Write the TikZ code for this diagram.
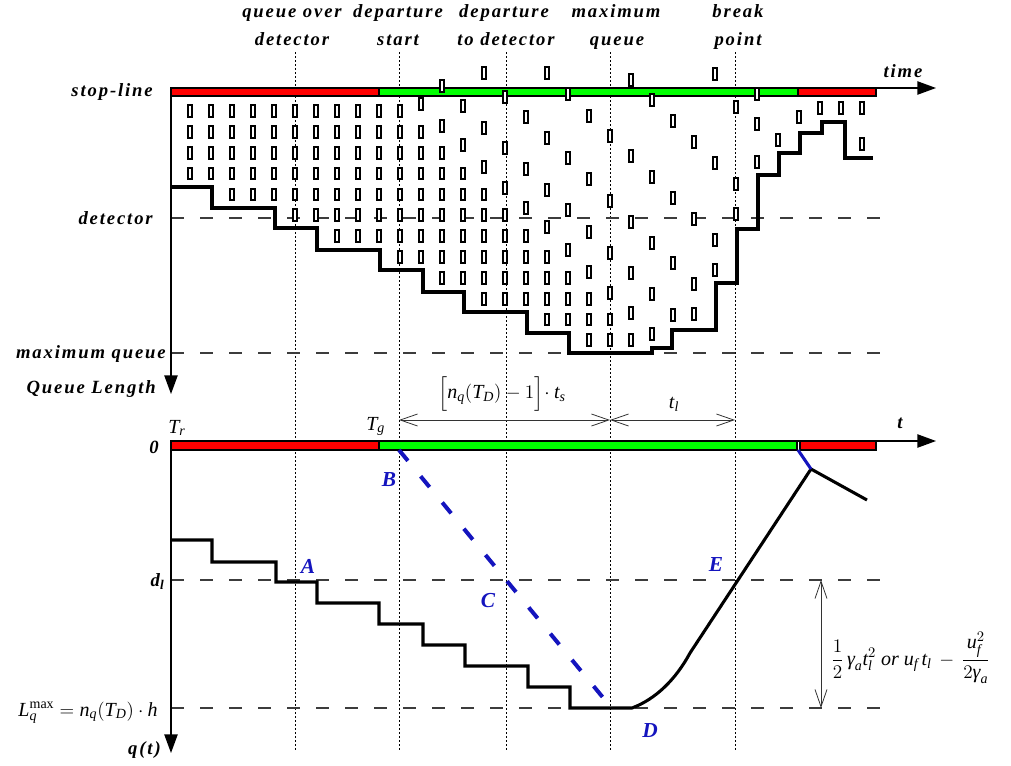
\documentclass[tikz,border=0pt]{standalone}
\usepackage{amsmath}
\usepackage{fontspec}
\setmainfont{Liberation Serif}
\newfontfamily\spaced[LetterSpace=10]{Liberation Serif}
\usetikzlibrary{arrows.meta}
\definecolor{barred}{RGB}{255,0,0}
\definecolor{bargreen}{RGB}{0,255,0}
\definecolor{lblue}{RGB}{20,20,190}
\definecolor{dashgray}{RGB}{60,60,60}
\newcommand\mi[1]{\text{\itshape #1}}
\newcommand\carat[3][car]{\draw[#1] (#2-2.4,#3-5.9) rectangle (#2+2.4,#3+5.9);}
\begin{document}
\begin{tikzpicture}[x=0.75pt,y=-0.75pt,
  lbl/.style={font=\spaced\fontsize{14}{16}\selectfont\bfseries\itshape, inner sep=0pt},
  mth/.style={font=\fontsize{15}{17}\selectfont, inner sep=0pt},
  ptlbl/.style={font=\fontsize{16}{18}\selectfont\bfseries\itshape, text=lblue, inner sep=0pt},
  car/.style={draw=black, fill=white, line width=1.5pt},
  stair/.style={line width=2.3pt, line join=miter},
  guide/.style={draw=dashgray, line width=0.9pt, dash pattern=on 9.75pt off 12pt},
  vdot/.style={draw=black, line width=0.6pt, dash pattern=on 1.5pt off 1.5pt},
  axis/.style={draw=black, line width=1pt, -{Triangle[length=14pt,width=10pt]}},
  dim/.style={draw=black!80, line width=0.6pt, {Straight Barb[length=13pt,width=9pt]}-{Straight Barb[length=13pt,width=9pt]}},
  bar/.style={draw=black, line width=1.2pt},
  bluedash/.style={draw=lblue, line width=3pt, dash pattern=on 10.5pt off 15pt},
]
\useasboundingbox (0,0) rectangle (1011,765);

% ---------- vertical dotted guides ----------
\foreach \x [count=\i] in {295,399,506,610,735}{
  \coordinate (vt\i) at (\x,52);
  \coordinate (vb\i) at (\x,750);
  \draw[vdot] (vt\i) -- (vb\i);
}

% ---------- horizontal dashed guides ----------
\foreach \y [count=\i] in {218,353,580,708}{
  \coordinate (hl\i) at (171,\y);
  \coordinate (hr\i) at (880,\y);
  \draw[guide] (hl\i) -- (hr\i);
}

% ---------- signal bars ----------
\draw[bar, fill=barred]   (171,88) rectangle (379,96);
\draw[bar, fill=bargreen] (379,88) rectangle (798,96);
\draw[bar, fill=barred]   (798,88) rectangle (876,96);

\draw[bar, fill=barred]   (171,441) rectangle (379,450);
\draw[bar, fill=bargreen] (379,441) rectangle (797,450);
\draw[bar, fill=barred]   (800,441) rectangle (876,450);

% ---------- axes ----------
\coordinate (O1) at (171,88);  \coordinate (X1) at (936,88);  \coordinate (Y1) at (171,394);
\coordinate (O2) at (171,441); \coordinate (X2) at (936,441); \coordinate (Y2) at (171,753);
\draw[axis] (O1) -- (X1);
\draw[axis] (O1) -- (Y1);
\draw[axis] (O2) -- (X2);
\draw[axis] (O2) -- (Y2);

% ---------- queued (stationary) vehicles ----------
\foreach \k/\a/\b in {0/0/3,1/0/3,2/0/4,3/0/4,4/0/4,5/0/5,6/0/5,7/0/6,8/0/6,9/0/6,
                      10/0/7,11/1/7,12/2/8,13/3/8,14/4/9,15/5/9,16/6/9,17/7/10,
                      18/8/10,19/9/11,20/10/11,21/11/11}{
  \foreach \j in {\a,...,\b}{
    \pgfmathsetmacro\cx{190+21*\k}
    \pgfmathsetmacro\cy{111+20.85*\j}
    \carat{\cx}{\cy}
  }
}
% ---------- moving vehicles ----------
\foreach \k/\y in {11/104, 12/86, 12/126, 13/106, 13/145, 14/73, 14/128, 14/167,
                   15/97, 15/148, 15/188, 16/117, 16/169, 16/208,
                   17/73, 17/138, 17/190, 17/227, 18/94, 18/158, 18/210, 18/250,
                   19/116, 19/179, 19/232, 19/272, 20/136, 20/201, 20/253, 20/293,
                   21/80, 21/156, 21/222, 21/273, 21/313,
                   22/100, 22/177, 22/243, 22/294, 22/334,
                   23/121, 23/198, 23/263, 23/315, 24/142, 24/219, 24/284, 24/314,
                   25/74, 25/163, 25/240, 25/270, 26/107, 26/184, 26/214,
                   27/94, 27/124, 27/162, 28/140, 29/117, 30/108, 31/108, 32/108, 32/144}{
  \pgfmathsetmacro\cx{190+21*\k}
  \carat{\cx}{\y}
}

% ---------- queue tail (top) ----------
\draw[stair] (171,187) -- (212,187) -- (212,208) -- (275,208) -- (275,228) -- (317,228)
  -- (317,250) -- (380,250) -- (380,270) -- (423,270) -- (423,292) -- (464,292)
  -- (464,312) -- (527,312) -- (527,333) -- (569,333) -- (569,353) -- (652,353)
  -- (652,348) -- (672,348) -- (672,330) -- (716,330) -- (716,283) -- (737,283)
  -- (737,229) -- (758,229) -- (758,175) -- (779,175) -- (779,153) -- (800,153)
  -- (800,133) -- (822,133) -- (822,122) -- (845,122) -- (845,158) -- (873,158);

% ---------- queue length curve (bottom) ----------
\coordinate (Dpt) at (632,708);
\coordinate (Kpt) at (690,653);
\coordinate (Peak) at (811,469);
\coordinate (Tail) at (867,500);
\coordinate (Gend) at (798,450);
\draw[stair] (171,540) -- (212,540) -- (212,562) -- (276,562) -- (276,582) -- (317,582)
  -- (317,603) -- (379,603) -- (379,624) -- (423,624) -- (423,645) -- (465,645)
  -- (465,666) -- (528,666) -- (528,687) -- (570,687) -- (570,708) -- (Dpt)
  .. controls (656,699) and (676,679) .. (Kpt) -- (Peak) -- (Tail);
\draw[draw=lblue, line width=2.3pt] (Gend) -- (Peak);

% ---------- discharge wave ----------
\coordinate (Bs) at (399,450);
\coordinate (Be) at (605,700);
\draw[bluedash] (Bs) -- (Be);

% ---------- dimension arrows ----------
\coordinate (dA) at (399,420); \coordinate (dB) at (610,420); \coordinate (dC) at (735,420);
\draw[dim] (dA) -- (dB);
\draw[dim] (dB) -- (dC);
\coordinate (dD) at (821,580); \coordinate (dE) at (821,708);
\draw[dim] (dD) -- (dE);

% ---------- labels: top ----------
\node[lbl, anchor=base] (l1a) at (292,17) {queue over};
\node[lbl, anchor=base] (l1b) at (292,45) {detector};
\node[lbl, anchor=base] (l2a) at (398,17) {departure};
\node[lbl, anchor=base] (l2b) at (398,45) {start};
\node[lbl, anchor=base] (l3a) at (504,17) {departure};
\node[lbl, anchor=base] (l3b) at (506,45) {to detector};
\node[lbl, anchor=base] (l4a) at (616,17) {maximum};
\node[lbl, anchor=base] (l4b) at (617,45) {queue};
\node[lbl, anchor=base] (l5a) at (738,17) {break};
\node[lbl, anchor=base] (l5b) at (738,45) {point};
\node[lbl, anchor=base] (ltime) at (903,77) {time};

% ---------- labels: left, top diagram ----------
\node[lbl, anchor=base east] (lstop) at (153,96) {stop-line};
\node[lbl, anchor=base east] (ldet) at (153,224) {detector};
\node[lbl, anchor=base east] (lmaxq) at (166,358) {maximum queue};
\node[lbl, anchor=base east] (lql) at (156,393) {Queue Length};

% ---------- labels: bottom diagram ----------
\node[lbl, anchor=base east] (lzero) at (159,453) {0};
\node[lbl, anchor=base east] (ldl) at (164,586) {d\raisebox{-0.4ex}{\fontsize{10}{12}\selectfont l}};
\node[mth, anchor=base east] (lLq) at (158,716) {$\mi{L}_{\mi{q}}^{\text{max}} = \mi{n}_{\mi{q}}(\mi{T}_{\mi{D}})\cdot \mi{h}$};
\node[lbl, anchor=base east] (lqt) at (161,754) {q(t)};
\node[mth, anchor=base west] (lTr) at (168,433) {$\mi{T}_{\mi{r}}$};
\node[mth, anchor=base west] (lTg) at (366,430) {$\mi{T}_{\mi{g}}$};
\node[lbl, anchor=base] (lt) at (900,428) {t};
\node[mth] (lns) at (502,394) {$\Bigl[\mi{n}_{\mi{q}}(\mi{T}_{\mi{D}})-1\Bigr]\!\cdot \mi{t}_{\mi{s}}$};
\node[mth] (ltl) at (674,404) {$\mi{t}_{\mi{l}}$};
\node[mth, anchor=west] (lfrm) at (831,658) {$\displaystyle \frac{1}{2}\,\mi{γ}_{\mi{a}}\mi{t}_{\mi{l}}^{2}\ \mi{or}\ \mi{u}_{\mi{f}}\,\mi{t}_{\mi{l}}\,-\,\frac{\mi{u}_{\mi{f}}^{2}}{2\mi{γ}_{\mi{a}}}$};

% ---------- point letters ----------
\node[ptlbl] (pA) at (308,566) {A};
\node[ptlbl] (pB) at (389,480) {B};
\node[ptlbl] (pC) at (488,601) {C};
\node[ptlbl] (pD) at (650,731) {D};
\node[ptlbl] (pE) at (716,565) {E};
\end{tikzpicture}
\end{document}
